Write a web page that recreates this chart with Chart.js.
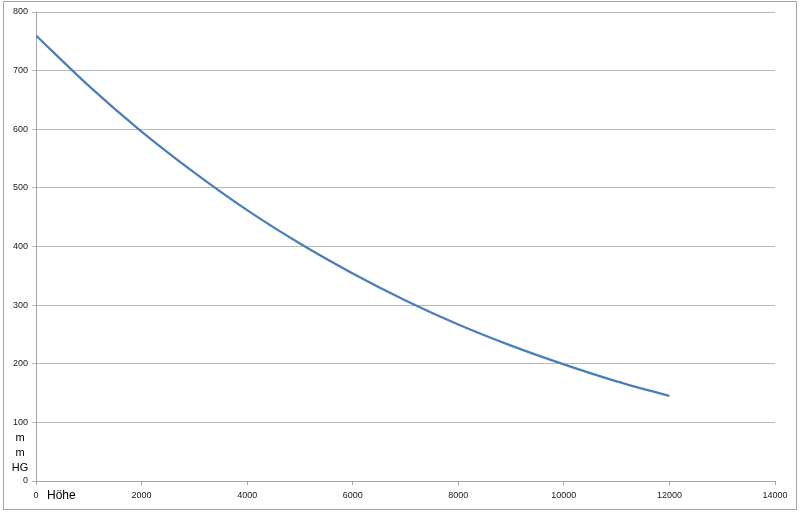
<!DOCTYPE html>
<html>
<head>
<meta charset="utf-8">
<script src="https://cdn.jsdelivr.net/npm/chart.js@4"></script>
<style>
  html, body { margin: 0; padding: 0; background: #fff; }
  #wrap { width: 800px; height: 515px; position: relative; }
</style>
</head>
<body>
<div id="wrap"><canvas id="chart" width="800" height="515"></canvas></div>
<script>
// data (Höhe in m, Luftdruck in mm HG)
const hoehe = [0, 1000, 2000, 3000, 4000, 5000, 6000, 7000, 8000, 9000, 10000, 11000, 12000];
const druck = [760, 674, 596, 526, 462, 405, 354, 308, 267, 231, 199, 170, 145];
const yLabelLines = ['m', 'm', 'HG'];
const xLabel = 'Höhe';

const points = hoehe.map((h, i) => ({ x: h, y: druck[i] }));

// outer frame + the little axis captions
const extras = {
    id: 'extras',
    beforeDraw(chart) {
        const ctx = chart.ctx;
        ctx.save();
        ctx.fillStyle = '#fff';
        ctx.fillRect(0, 0, chart.width, chart.height);
        ctx.strokeStyle = '#a6a6a6';
        ctx.lineWidth = 1;
        ctx.strokeRect(3.5, 1.5, 793, 508);
        ctx.restore();
    },
    afterDraw(chart) {
        const ctx = chart.ctx;
        ctx.save();
        ctx.fillStyle = '#000';
        ctx.font = '11px "Liberation Sans", Arial, sans-serif';
        ctx.textAlign = 'center';
        ctx.textBaseline = 'middle';
        const ys = [438, 453, 468];
        yLabelLines.forEach((t, i) => ctx.fillText(t, 20, ys[i]));
        ctx.font = '12px "Liberation Sans", Arial, sans-serif';
        ctx.textAlign = 'left';
        ctx.fillText(xLabel, 47, 496);
        ctx.restore();
    }
};

const tickFont = { size: 9, family: '"Liberation Sans", Arial, sans-serif' };

const ctx = document.getElementById('chart').getContext('2d');
const chart = new Chart(ctx, {
    type: 'line',
    data: {
        datasets: [{
            data: points,
            borderColor: '#4a7ebb',
            borderWidth: 2.25,
            pointRadius: 0,
            tension: 0.3,
            fill: false
        }]
    },
    options: {
        responsive: false,
        animation: false,
        layout: { padding: { top: 12, right: 25, bottom: 0, left: 0 } },
        plugins: {
            legend: { display: false },
            tooltip: { enabled: false }
        },
        scales: {
            x: {
                type: 'linear',
                min: 0,
                max: 14000,
                afterFit: (s) => { s.height = 34; },
                ticks: {
                    stepSize: 2000,
                    color: '#1a1a1a',
                    padding: 5,
                    maxRotation: 0,
                    font: tickFont,
                    callback: (v) => String(v)
                },
                grid: {
                    drawOnChartArea: false,
                    drawTicks: true,
                    tickLength: 4,
                    color: '#a6a6a6'
                },
                border: { color: '#a6a6a6' }
            },
            y: {
                min: 0,
                max: 800,
                afterFit: (s) => { s.width = 36; },
                ticks: {
                    stepSize: 100,
                    color: '#1a1a1a',
                    padding: 4,
                    font: tickFont,
                    callback: (v) => String(v)
                },
                grid: {
                    color: '#b8b8b8',
                    tickLength: 4
                },
                border: { color: '#a6a6a6' }
            }
        }
    },
    plugins: [extras]
});
</script>
</body>
</html>
